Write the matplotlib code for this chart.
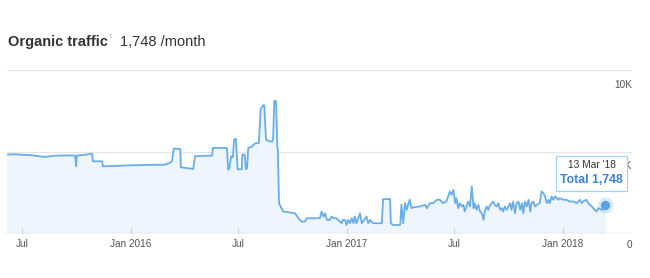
import numpy as np
import matplotlib
matplotlib.use('Agg')
import matplotlib.pyplot as plt
import pandas as pd
from matplotlib.offsetbox import TextArea, VPacker, AnnotationBbox

plt.rcParams['font.family'] = ['Liberation Sans', 'DejaVu Sans']

# organic traffic readings (date, visits)
dates = [
    '2015-06-06', '2015-06-19', '2015-07-01', '2015-07-15', '2015-08-01', '2015-08-09',
    '2015-08-26', '2015-09-12', '2015-09-29', '2015-10-01', '2015-10-02', '2015-10-16',
    '2015-10-28', '2015-10-29', '2015-11-14', '2015-11-15', '2015-12-06', '2015-12-31',
    '2016-02-03', '2016-02-28', '2016-03-08', '2016-03-11', '2016-03-14', '2016-03-25',
    '2016-03-26', '2016-04-16', '2016-04-19', '2016-05-18', '2016-05-19', '2016-06-12',
    '2016-06-14', '2016-06-16', '2016-06-19', '2016-06-22', '2016-06-24', '2016-06-27',
    '2016-06-30', '2016-07-07', '2016-07-08', '2016-07-12', '2016-07-14', '2016-07-16',
    '2016-07-18', '2016-07-24', '2016-07-29', '2016-08-05', '2016-08-08', '2016-08-12',
    '2016-08-14', '2016-08-17', '2016-08-22', '2016-08-27', '2016-08-29', '2016-08-31',
    '2016-09-03', '2016-09-05', '2016-09-06', '2016-09-08', '2016-09-15', '2016-10-05',
    '2016-10-13', '2016-10-17', '2016-10-22', '2016-10-25', '2016-11-16', '2016-11-19',
    '2016-11-22', '2016-11-25', '2016-11-28', '2016-12-03', '2016-12-06', '2016-12-09',
    '2016-12-14', '2016-12-20', '2016-12-23', '2016-12-25', '2016-12-29', '2016-12-31',
    '2017-01-03', '2017-01-06', '2017-01-09', '2017-01-12', '2017-01-14', '2017-01-17',
    '2017-01-20', '2017-01-23', '2017-01-26', '2017-01-28', '2017-02-03', '2017-02-06',
    '2017-02-09', '2017-02-14', '2017-03-01', '2017-03-03', '2017-03-15', '2017-03-16',
    '2017-03-20', '2017-04-01', '2017-04-03', '2017-04-06', '2017-04-09', '2017-04-12',
    '2017-04-15', '2017-04-17', '2017-04-20', '2017-04-23', '2017-05-04', '2017-05-13',
    '2017-05-16', '2017-05-21', '2017-05-27', '2017-06-02', '2017-06-07', '2017-06-12',
    '2017-06-18', '2017-06-24', '2017-06-27', '2017-06-30', '2017-07-03', '2017-07-05',
    '2017-07-08', '2017-07-11', '2017-07-14', '2017-07-17', '2017-07-19', '2017-07-22',
    '2017-07-25', '2017-07-28', '2017-07-31', '2017-08-03', '2017-08-05', '2017-08-08',
    '2017-08-11', '2017-08-14', '2017-08-17', '2017-08-20', '2017-08-22', '2017-08-25',
    '2017-08-28', '2017-08-31', '2017-09-03', '2017-09-05', '2017-09-08', '2017-09-11',
    '2017-09-14', '2017-09-17', '2017-09-20', '2017-09-22', '2017-09-25', '2017-09-28',
    '2017-10-01', '2017-10-04', '2017-10-06', '2017-10-09', '2017-10-12', '2017-10-15',
    '2017-10-18', '2017-10-21', '2017-10-24', '2017-10-26', '2017-10-29', '2017-11-01',
    '2017-11-04', '2017-11-07', '2017-11-09', '2017-11-12', '2017-11-15', '2017-11-18',
    '2017-11-23', '2017-11-26', '2017-11-29', '2017-12-02', '2017-12-05', '2017-12-08',
    '2017-12-10', '2017-12-13', '2017-12-16', '2017-12-19', '2017-12-22', '2017-12-24',
    '2017-12-27', '2018-01-02', '2018-01-07', '2018-01-13', '2018-01-19', '2018-01-24',
    '2018-01-30', '2018-02-02', '2018-02-04', '2018-02-10', '2018-02-13', '2018-02-19',
    '2018-02-24', '2018-02-27', '2018-03-02', '2018-03-08', '2018-03-13',
]
traffic = [
    4810, 4830, 4800, 4780, 4700, 4670,
    4740, 4760, 4750, 4100, 4750, 4800,
    4870, 4400, 4400, 4090, 4120, 4150,
    4180, 4190, 4320, 4400, 5180, 5150,
    4030, 3930, 4710, 4750, 5220, 5220,
    3880, 3980, 4700, 4650, 5740, 5780,
    3910, 3910, 4810, 4810, 3910, 3980,
    5220, 5290, 5490, 5530, 7590, 7840,
    7840, 5740, 5640, 5600, 5740, 8100,
    8100, 5400, 5100, 1830, 1320, 1210,
    800, 700, 700, 905, 905, 1320,
    1010, 1210, 800, 800, 1010, 905,
    905, 700, 600, 800, 800, 490,
    800, 600, 905, 600, 1010, 600,
    905, 1210, 600, 700, 1010, 600,
    800, 600, 600, 2080, 2080, 600,
    490, 490, 1730, 600, 1830, 1420,
    1830, 2040, 1520, 1580, 1625, 1730,
    1520, 1830, 1830, 2040, 2040, 1830,
    1930, 2550, 2345, 2650, 1830, 2140,
    1520, 1830, 1625, 1730, 1316, 1625,
    1930, 1625, 2860, 1520, 1830, 1420,
    1730, 1316, 1213, 800, 1316, 1625,
    1420, 1730, 1830, 1930, 1730, 1625,
    1830, 1420, 1520, 1316, 1625, 1420,
    1625, 1830, 1420, 1930, 1213, 1830,
    1930, 1420, 1830, 1213, 1930, 1625,
    2036, 1316, 1830, 1930, 1625, 1728,
    1830, 2550, 2447, 2242, 1830, 2036,
    1830, 2242, 2036, 2242, 2139, 2036,
    2139, 2036, 2036, 1933, 1933, 1830,
    2036, 1830, 1933, 2036, 1830, 1625,
    1419, 1316, 1522, 1419, 1748,
]
tick_dates = ['2015-07-01', '2016-01-01', '2016-07-01', '2017-01-01', '2017-07-01', '2018-01-01']
tick_labels = ['Jul', 'Jan 2016', 'Jul', 'Jan 2017', 'Jul', 'Jan 2018']
y_levels = [0, 5000, 10000]
y_labels = ['0', '5K', '10K']

x = pd.to_datetime(dates)
line_color = '#6aaee8'

fig = plt.figure(figsize=(6.5, 2.78), dpi=100)
ax = fig.add_axes([7 / 650, 45 / 278, 625 / 650, 163 / 278])

ax.fill_between(x, traffic, 0, color='#eef5fc', zorder=1)
ax.plot(x, traffic, color=line_color, lw=1.3, zorder=3, solid_joinstyle='round')

ax.set_xlim(pd.Timestamp('2015-06-06'), pd.Timestamp('2018-04-28'))
ax.set_ylim(0, 10000)

for lv in y_levels[1:]:
    ax.axhline(lv, color='#e6e6e6', lw=0.9, zorder=0)
ax.axhline(0, color='#d8dde6', lw=1.0, zorder=2)

for sp in ax.spines.values():
    sp.set_visible(False)
ax.set_yticks([])
ax.set_xticks(pd.to_datetime(tick_dates))
ax.set_xticklabels(tick_labels)
ax.tick_params(axis='x', direction='in', length=3.5, color='#d0d0d0', width=0.8,
               labelsize=7.2, labelcolor='#555555', pad=4)

for lv, lab in zip(y_levels, y_labels):
    off = -5 if lv == 0 else -7
    ax.annotate(lab, xy=(1, lv), xycoords=('axes fraction', 'data'),
                xytext=(0, off), textcoords='offset points', ha='right', va='top',
                fontsize=7.2, color='#555555', zorder=4)

# last point marker with halo
last_x, last_y = x[-1], traffic[-1]
ax.scatter([last_x], [last_y], s=130, color=line_color, alpha=0.25, zorder=5, lw=0)
ax.scatter([last_x], [last_y], s=45, color='#58a2e4', zorder=6, lw=0)

# tooltip
t1 = TextArea("13 Mar '18", textprops=dict(fontsize=7.3, color='#333333'))
t2 = TextArea("Total 1,748", textprops=dict(fontsize=8.8, color='#3b80d6', fontweight='bold'))
box = VPacker(children=[t1, t2], align='center', pad=0, sep=3)
ab = AnnotationBbox(box, (last_x, last_y), xybox=(-9.5, 22.5), boxcoords='offset points',
                    frameon=True, pad=0.3, zorder=7,
                    bboxprops=dict(boxstyle='square,pad=0.3', fc='white', ec='#a9d1f2', lw=0.9))
ax.add_artist(ab)

# title
fig.text(8 / 650, 1 - 42 / 278, 'Organic traffic', fontsize=10.5, fontweight='bold',
         color='#333333', va='center', ha='left')
fig.text(109 / 650, 1 - 36 / 278, 'i', fontsize=5.5, color='#999999', va='center', ha='left')
fig.text(120 / 650, 1 - 42 / 278, '1,748 /month', fontsize=10.5, color='#333333',
         va='center', ha='left')

fig.savefig('out.png', dpi=100)
